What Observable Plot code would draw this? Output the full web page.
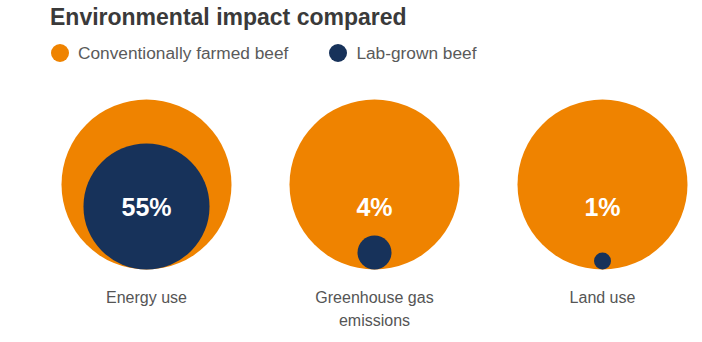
<!DOCTYPE html>
<html>
<head>
<meta charset="utf-8">
<script src="https://cdn.jsdelivr.net/npm/d3@7"></script>
<script src="https://cdn.jsdelivr.net/npm/@observablehq/plot@0.6"></script>
<style>
  html, body { margin: 0; padding: 0; background: #fff; }
  body { width: 702px; height: 342px; overflow: hidden; font-family: "Liberation Sans", Arial, sans-serif; }
  #title { margin: 4px 0 0 50px; height: 27px; line-height: 27px; font-size: 23px; font-weight: bold; color: #3a3a3a; }
  #legend { margin: 11px 0 0 51px; height: 22px; line-height: 22px; font-size: 17.3px; color: #5a5a5a; display: flex; align-items: center; }
  .sw { display: inline-block; width: 18px; height: 18px; border-radius: 50%; margin-right: 9px; flex: none; }
  .item { display: flex; align-items: center; margin-right: 41px; white-space: nowrap; }
  #chart { margin-top: 5px; }
</style>
</head>
<body>
<div id="title">Environmental impact compared</div>
<div id="legend"></div>
<div id="chart"></div>
<script>
const categories = ["Energy use", "Greenhouse gas emissions", "Land use"];
const tickLabels = ["Energy use", "Greenhouse gas\nemissions", "Land use"];
const conventional = [100, 100, 100];
const labGrown = [55, 4, 1];
const pctLabels = ["55%", "4%", "1%"];
const seriesNames = ["Conventionally farmed beef", "Lab-grown beef"];
const seriesColors = ["#ef8300", "#17325a"];

const data = [];
categories.forEach((c, i) => {
  data.push({category: c, series: seriesNames[0], value: conventional[i]});
  data.push({category: c, series: seriesNames[1], value: labGrown[i]});
});
const labels = categories.map((c, i) => ({category: c, value: conventional[i], label: pctLabels[i]}));

const legend = document.getElementById("legend");
seriesNames.forEach((s, i) => {
  const it = document.createElement("span");
  it.className = "item";
  it.innerHTML = `<span class="sw" style="background:${seriesColors[i]}"></span>${s}`;
  legend.appendChild(it);
});

const maxR = 85;
const chart = Plot.plot({
  width: 702,
  height: 272,
  marginLeft: 146,
  marginRight: 100,
  marginTop: 30,
  marginBottom: 72,
  style: {fontFamily: "'Liberation Sans', Arial, sans-serif", background: "transparent"},
  x: {type: "point", domain: categories, padding: 0, label: null},
  y: {domain: [0, 2 * Math.sqrt(100)], axis: null},
  r: {type: "sqrt", domain: [0, 100], range: [0, maxR]},
  color: {domain: seriesNames, range: seriesColors},
  marks: [
    Plot.dot(data, {x: "category", y: d => Math.sqrt(d.value), r: "value", fill: "series", stroke: null}),
    Plot.text(labels, {x: "category", y: d => Math.sqrt(d.value), text: "label", dy: 23, fill: "white", fontSize: 25, fontWeight: "bold"}),
    Plot.axisX({tickSize: 0, tickPadding: 18, fontSize: 16, fill: "#555", lineHeight: 1.4, lineAnchor: "top",
      tickFormat: d => tickLabels[categories.indexOf(d)], label: null})
  ]
});
document.getElementById("chart").appendChild(chart);
</script>
</body>
</html>
